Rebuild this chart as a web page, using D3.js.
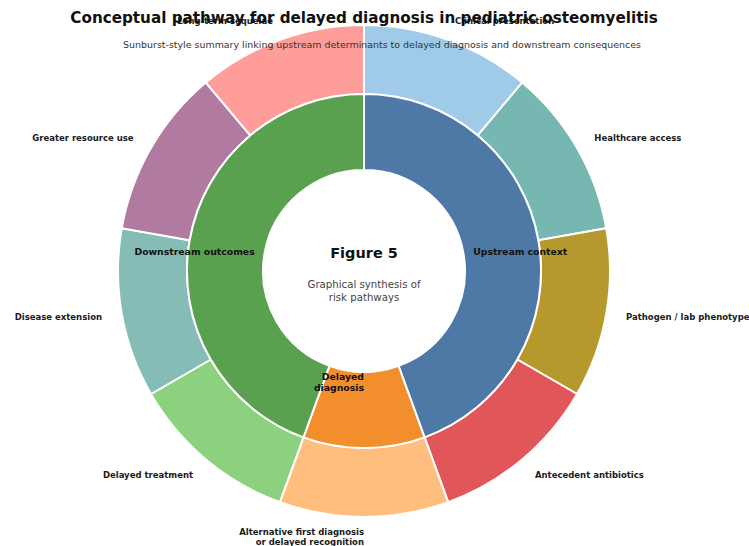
<!DOCTYPE html>
<html>
<head>
<meta charset="utf-8">
<script src="https://cdn.jsdelivr.net/npm/d3@7"></script>
<style>
  html, body { margin: 0; padding: 0; background: #fff; }
  svg { display: block; font-family: "DejaVu Sans", sans-serif; }
</style>
</head>
<body>
<svg id="chart" width="749" height="546"></svg>
<script>
// Inner ring: the three stages of the pathway
const stages = ["Upstream context", "Delayed\ndiagnosis", "Downstream outcomes"];
const stageColors = ["#4e79a7", "#f28e2b", "#59a14f"];

// Outer ring: contributing factors and consequences, one unit each
const factors = [
  "Clinical presentation",
  "Healthcare access",
  "Pathogen / lab phenotype",
  "Antecedent antibiotics",
  "Alternative first diagnosis\nor delayed recognition",
  "Delayed treatment",
  "Disease extension",
  "Greater resource use",
  "Long-term sequelae"
];
const factorStage = [0, 0, 0, 0, 1, 2, 2, 2, 2];
const factorValues = [1, 1, 1, 1, 1, 1, 1, 1, 1];
const factorColors = ["#a0cbe8", "#76b7b2", "#b6992d", "#e15759", "#ffbe7d",
                      "#8cd17d", "#86bcb6", "#b07aa1", "#ff9d9a"];

const svg = d3.select("#chart");
const cx = 364, cy = 271;
const rHole = 101, rMid = 177, rOuter = 246;

const stageValues = stages.map((s, i) =>
  d3.sum(factorValues.filter((v, j) => factorStage[j] === i)));

const pie = d3.pie().sort(null).startAngle(0).endAngle(2 * Math.PI);
const innerArcs = pie(stageValues);
const outerArcs = pie(factorValues);

const g = svg.append("g").attr("transform", `translate(${cx},${cy})`);

const innerArc = d3.arc().innerRadius(rHole).outerRadius(rMid);
const outerArc = d3.arc().innerRadius(rMid).outerRadius(rOuter);

g.selectAll("path.outer").data(outerArcs).join("path")
  .attr("class", "outer")
  .attr("d", outerArc)
  .attr("fill", (d, i) => factorColors[i])
  .attr("stroke", "#fff").attr("stroke-width", 2);

g.selectAll("path.inner").data(innerArcs).join("path")
  .attr("class", "inner")
  .attr("d", innerArc)
  .attr("fill", (d, i) => stageColors[i])
  .attr("stroke", "#fff").attr("stroke-width", 2);

function addLabel(sel, text, x, y, anchor, size, weight, color, lh) {
  const lines = text.split("\n");
  const t = sel.append("text")
    .attr("text-anchor", anchor)
    .attr("font-size", size)
    .attr("font-weight", weight)
    .attr("fill", color);
  lines.forEach((ln, k) => {
    t.append("tspan")
      .attr("x", x)
      .attr("y", y + (k - (lines.length - 1) / 2) * lh)
      .attr("dominant-baseline", "central")
      .text(ln);
  });
}

function anchorFor(a) {
  const s = Math.sin(a);
  return s > 0.01 ? "start" : "end";
}

// Stage labels just outside the hole
innerArcs.forEach((d, i) => {
  const a = (d.startAngle + d.endAngle) / 2;
  const r = 111;
  addLabel(g, stages[i], r * Math.sin(a), -r * Math.cos(a), anchorFor(a),
           9.3, "bold", "#111", 10.5);
});

// Factor labels outside the outer ring
outerArcs.forEach((d, i) => {
  const a = (d.startAngle + d.endAngle) / 2;
  const r = 266;
  addLabel(g, factors[i], r * Math.sin(a), -r * Math.cos(a), anchorFor(a),
           8.5, "bold", "#1a1a1a", 10.5);
});

// Centre caption
g.append("text").attr("text-anchor", "middle").attr("y", -18)
  .attr("dominant-baseline", "central")
  .attr("font-size", 14.5).attr("font-weight", "bold").attr("fill", "#111")
  .text("Figure 5");
addLabel(g, "Graphical synthesis of\nrisk pathways", 0, 20, "middle",
         10.2, "normal", "#444", 13);

// Title and subtitle
svg.append("text").attr("x", 364).attr("y", 18)
  .attr("text-anchor", "middle").attr("dominant-baseline", "central")
  .attr("font-size", 15.2).attr("font-weight", "bold").attr("fill", "#111")
  .text("Conceptual pathway for delayed diagnosis in pediatric osteomyelitis");
svg.append("text").attr("x", 382).attr("y", 44)
  .attr("text-anchor", "middle").attr("dominant-baseline", "central")
  .attr("font-size", 9.45).attr("fill", "#333")
  .text("Sunburst-style summary linking upstream determinants to delayed diagnosis and downstream consequences");
</script>
</body>
</html>
